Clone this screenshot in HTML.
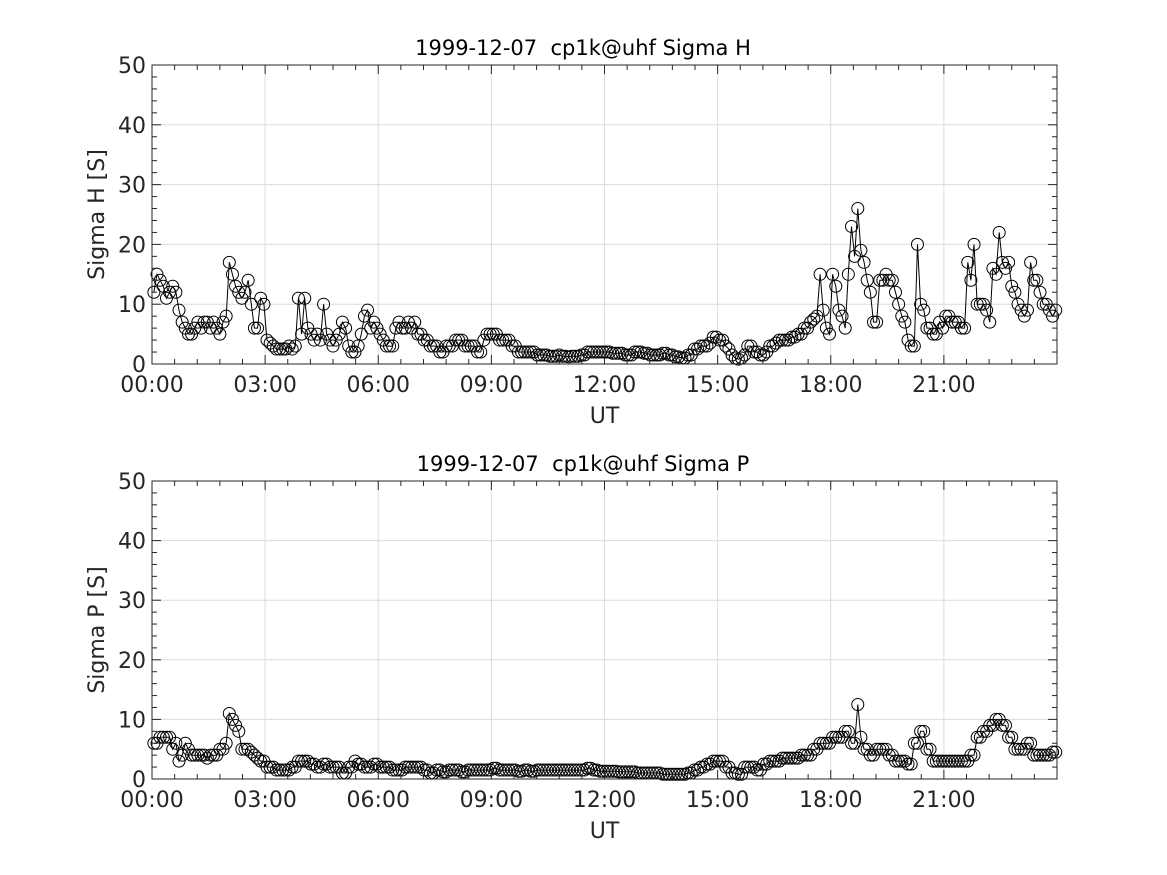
<!DOCTYPE html>
<html><head><meta charset="utf-8"><style>
html,body{margin:0;padding:0;background:#fff;}
svg{display:block;font-family:"DejaVu Sans","Liberation Sans",sans-serif;}
</style></head><body>
<svg id="fig" width="1167" height="875" viewBox="0 0 1167 875" xmlns="http://www.w3.org/2000/svg"></svg>
<script>
// sample times: minutes after 00:00, one sample every 5 minutes
const timesMin = [];
for (let i = 0; i < 288; i++) timesMin.push(3 + 5 * i);
const xTickLabels = ["00:00","03:00","06:00","09:00","12:00","15:00","18:00","21:00"];
const yTickLabels = ["0","10","20","30","40","50"];
const sigmaH = [
 12,15,14,13,11,12,13,12,9,7,6,5,
 5,6,7,6,7,7,6,7,6,5,7,8,
 17,15,13,12,11,12,14,10,6,6,11,10,
 4,3.5,3,2.5,2.5,2.5,2.5,3,2.5,3,11,5,
 11,6,5,4,5,4,10,5,4,3,4,5,
 7,6,3,2,2,3,5,8,9,6,7,6,
 5,4,3,3,3,6,7,6,6,7,6,7,
 5,5,4,4,3,3,3,2,2,3,3,3,
 4,4,4,3,3,3,3,2,2,4,5,5,
 5,5,4,4,4,4,3,3,2,2,2,2,
 2,2,1.5,1.5,1.5,1.5,1.3,1.3,1.3,1.5,1.3,1.3,
 1.2,1.3,1.3,1.3,1.5,1.5,2,2,2,2,2,2,
 2,2,1.8,1.8,1.8,1.8,1.5,1.5,1.5,2,2,2,
 1.8,1.8,1.5,1.5,1.5,1.5,1.8,1.8,1.5,1.5,1.2,1.2,
 1,1,1.5,1.5,2.5,2.5,3,3,3,3.5,4.5,4.5,
 4,4,3,2.5,1.5,1,0.8,1,1.5,3,3,2,
 2,1.5,1.5,2,3,3,3.5,4,4,4,4,4.5,
 4.5,5,5,6,6,7,7.5,8,15,9,6,5,
 15,13,9,8,6,15,23,18,26,19,17,14,
 12,7,7,14,14,15,14,14,12,10,8,7,
 4,3,3,20,10,9,6,6,5,5,7,6,
 8,8,7,7,7,6,6,17,14,20,10,10,
 10,9,7,16,15,22,17,16,17,13,12,10,
 9,8,9,17,14,14,12,10,10,9,8,9
];
const sigmaP = [
 6,6,7,7,7,7,5,6,3,4,6,5,
 4,4,4,4,4,3.5,4,4,4,5,5,6,
 11,10,9,8,5,5,5,4.5,4,3.5,3,3,
 2,2,2,1.5,1.5,1.5,1.5,1.5,2,2,3,3,
 3,3,2.5,2.5,2,2,2.5,2.5,2,2,2,2,
 1,1,2,2,3,2.5,2.5,2,2,2,2.5,2.5,
 2,2,2,2,1.5,1.5,1.5,1.5,2,2,2,2,
 2,2,1.5,1.5,1,1,1.5,1.5,1.2,1.2,1.5,1.5,
 1.5,1.5,1.2,1.2,1.5,1.5,1.5,1.5,1.5,1.5,1.5,1.5,
 1.8,1.8,1.5,1.5,1.5,1.5,1.5,1.5,1.3,1.3,1.5,1.5,
 1.3,1.3,1.5,1.5,1.5,1.5,1.5,1.5,1.5,1.5,1.5,1.5,
 1.5,1.5,1.5,1.5,1.5,1.5,1.8,1.8,1.5,1.5,1.3,1.3,
 1.3,1.3,1.3,1.3,1.2,1.2,1.2,1.2,1.2,1.2,1.0,1.0,
 1.0,1.0,1.0,1.0,1.0,1.0,0.8,0.8,0.8,0.8,0.8,0.8,
 0.8,0.8,1.0,1.0,1.5,1.5,2,2,2.5,2.5,3,3,
 3,3,2,2,1,1,0.8,0.8,2,2,2,2,
 1.5,1.5,2.5,2.5,3,3,3,3,3.5,3.5,3.5,3.5,
 3.5,3.5,4,4,4,4,5,5,6,6,6,6,
 7,7,7,7,8,8,6,6,12.5,7,5,5,
 4,4,5,5,5,5,4,4,3,3,3,3,
 2.5,2.5,6,6,8,8,5,5,3,3,3,3,
 3,3,3,3,3,3,3,3,4,4,7,7,
 8,8,9,9,10,10,9,9,7,7,5,5,
 5,5,6,6,4,4,4,4,4,4,4.5,4.5
];

const NS = "http://www.w3.org/2000/svg";
const svg = document.getElementById('fig');
function mk(tag, attrs, parent) {
  const e = document.createElementNS(NS, tag);
  for (const k in attrs) e.setAttribute(k, attrs[k]);
  (parent || svg).appendChild(e);
  return e;
}
function drawPanel(top, bottom, values, title, ylabel, key) {
  const L = 152, R = 1057;
  const g = mk('g', {});
  
  
  const xs = m => L + (R - L) * m / 1440;
  const ys = v => bottom - (bottom - top) * v / 50;
  for (let h = 3; h < 24; h += 3) {
    const gl = mk('line', {x1: xs(h*60), x2: xs(h*60), y1: top, y2: bottom, stroke: '#dcdcdc', 'stroke-width': 1}, g);
    
    
  }
  for (let v = 10; v < 50; v += 10) {
    const gl = mk('line', {x1: L, x2: R, y1: ys(v), y2: ys(v), stroke: '#dcdcdc', 'stroke-width': 1}, g);
    
    
  }
  let d = '';
  values.forEach((v, i) => { d += (i ? 'L' : 'M') + xs(timesMin[i]).toFixed(1) + ' ' + ys(v).toFixed(1); });
  const ln = mk('path', {d: d, fill: 'none', stroke: '#000', 'stroke-width': 1}, g);
  
  
  values.forEach((v, i) => {
    const c = mk('circle', {cx: xs(timesMin[i]), cy: ys(v), r: 6, fill: 'none', stroke: '#000', 'stroke-width': 1}, g);
    
    
  });
  const bx = mk('rect', {x: L, y: top, width: R - L, height: bottom - top, fill: 'none', stroke: '#262626', 'stroke-width': 1}, g);
  
  
  for (let k = 0; k <= 40; k++) {
    const x = L + (R - L) * k / 40;
    const len = (k % 5 === 0) ? 9 : 5;
    mk('line', {x1: x, x2: x, y1: bottom, y2: bottom - len, stroke: '#262626'}, g);
    mk('line', {x1: x, x2: x, y1: top, y2: top + len, stroke: '#262626'}, g);
  }
  for (let v = 0; v <= 50; v += 2) {
    const len = (v % 10 === 0) ? 9 : 5;
    mk('line', {x1: L, x2: L + len, y1: ys(v), y2: ys(v), stroke: '#262626'}, g);
    mk('line', {x1: R, x2: R - len, y1: ys(v), y2: ys(v), stroke: '#262626'}, g);
  }
  xTickLabels.forEach((s, i) => {
    const t = mk('text', {x: xs(i*180), y: bottom + 28, 'text-anchor': 'middle', 'font-size': 22, fill: '#262626'}, g);
    t.textContent = s;
    
    
  });
  yTickLabels.forEach((s, i) => {
    const t = mk('text', {x: L - 6, y: ys(i*10) + 8, 'text-anchor': 'end', 'font-size': 22, fill: '#262626'}, g);
    t.textContent = s;
    
    
  });
  const xl = mk('text', {x: (L + R) / 2, y: bottom + 59, 'text-anchor': 'middle', 'font-size': 22, fill: '#262626'}, g);
  xl.textContent = 'UT';
  
  
  const yl = mk('text', {x: 0, y: 0, 'text-anchor': 'middle', 'font-size': 22, fill: '#262626', transform: `translate(104,${(top+bottom)/2}) rotate(-90)`}, g);
  yl.textContent = ylabel;
  
  
  const tt = mk('text', {x: 583, y: top - 10, 'text-anchor': 'middle', 'font-size': 21, fill: '#000', 'xml:space': 'preserve', style: 'white-space:pre'}, g);
  tt.textContent = title;
  
  
}
drawPanel(65, 364, sigmaH, '1999-12-07  cp1k@uhf Sigma H', 'Sigma H [S]', 'sigma-h');
drawPanel(481, 779, sigmaP, '1999-12-07  cp1k@uhf Sigma P', 'Sigma P [S]', 'sigma-p');
</script>
</body></html>
